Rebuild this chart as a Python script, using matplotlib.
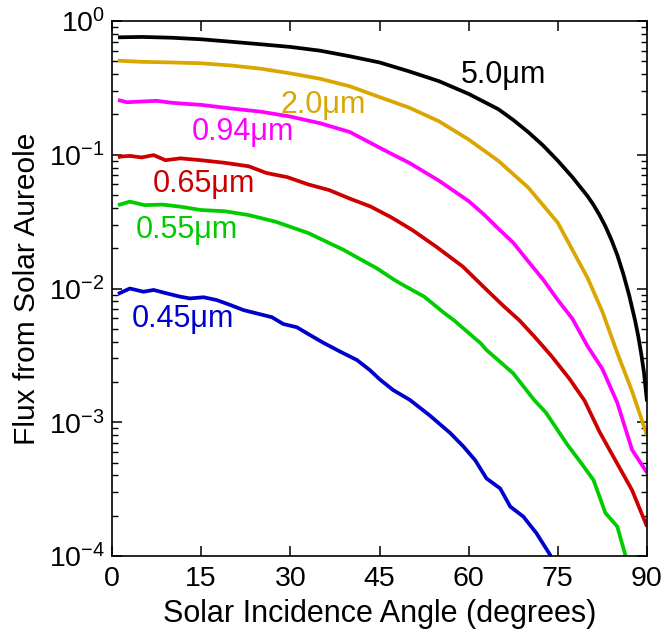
import matplotlib
matplotlib.use("Agg")
import matplotlib.pyplot as plt
from matplotlib.ticker import LogLocator, FixedLocator, NullFormatter

plt.rcParams['font.family'] = ['Liberation Sans', 'DejaVu Sans']
plt.rcParams['mathtext.fontset'] = 'custom'
plt.rcParams['mathtext.rm'] = 'Liberation Sans'
plt.rcParams['mathtext.it'] = 'Liberation Sans'
plt.rcParams['mathtext.default'] = 'rm'

# ---- data ----
ang_50 = [1, 5, 10, 15, 20, 25, 30, 35, 40, 45, 50, 55, 60, 65, 67.5, 70, 72.5,
          75, 77.5, 80, 81, 82, 83, 84, 85, 86, 87, 88, 88.5, 89, 89.5, 90]
flux_50 = [0.755, 0.76, 0.75, 0.73, 0.70, 0.67, 0.64, 0.60, 0.545, 0.49, 0.42,
           0.355, 0.285, 0.219, 0.182, 0.148, 0.1175, 0.0902, 0.0676, 0.049,
           0.0422, 0.0355, 0.0292, 0.0232, 0.0178, 0.0129, 0.0089, 0.00575,
           0.00447, 0.00331, 0.00234, 0.00143]

ang_20 = [1, 5, 10, 15, 20, 25, 30, 35, 40, 45, 50, 55, 60, 65, 70, 75, 80,
          82.5, 85, 87.5, 90]
flux_20 = [0.505, 0.495, 0.49, 0.483, 0.465, 0.44, 0.406, 0.37, 0.325, 0.27,
           0.225, 0.178, 0.13, 0.09, 0.057, 0.031, 0.012, 0.0067, 0.0033,
           0.0017, 0.0008]

ang_094 = [1, 2.5, 5, 7.5, 10, 12.5, 15, 20, 25, 30, 35, 40, 45, 47.5, 50, 55,
           60, 62.5, 65, 67.5, 70, 72.5, 75, 77.5, 80, 82.5, 85, 87.5, 90]
flux_094 = [0.257, 0.247, 0.25, 0.253, 0.245, 0.24, 0.236, 0.222, 0.21, 0.193,
            0.172, 0.148, 0.113, 0.099, 0.087, 0.064, 0.045, 0.036, 0.028,
            0.022, 0.016, 0.0117, 0.0082, 0.0059, 0.0037, 0.0025, 0.0014,
            0.00062, 0.00042]

ang_065 = [1, 1.5, 3, 5, 7, 9, 11.5, 15, 19, 23, 26, 29.5, 33, 36.5, 40, 43.5,
           47, 50.5, 54.5, 59, 63, 66, 68.5, 71, 74, 77, 79.5, 82, 85, 87.5, 90]
flux_065 = [0.0955, 0.097, 0.098, 0.0955, 0.0994, 0.091, 0.094, 0.091, 0.087,
            0.082, 0.073, 0.068, 0.060, 0.0545, 0.047, 0.041, 0.034, 0.0274,
            0.0206, 0.0146, 0.0098, 0.0073, 0.0058, 0.0044, 0.0031, 0.0021,
            0.00145, 0.00085, 0.00049, 0.00031, 0.000166]

ang_055 = [1, 3, 5.5, 8.5, 11.5, 15, 19, 23, 27.5, 33, 39, 41, 44.5, 47.5, 49,
           52.5, 56, 57.5, 62, 63, 67.5, 71, 73, 76.5, 79, 81, 83, 85, 86.4,
           87.5]
flux_055 = [0.042, 0.0446, 0.042, 0.0424, 0.0409, 0.0386, 0.0378, 0.0354,
            0.0316, 0.026, 0.0194, 0.0173, 0.0142, 0.0116, 0.0106, 0.0087,
            0.0065, 0.0058, 0.0039, 0.00347, 0.00232, 0.00147, 0.00118,
            0.00069, 0.00049, 0.00037, 0.00021, 0.000166, 0.0001, 0.00005]

ang_045 = [1, 3, 5.3, 7, 9.2, 11.4, 13.1, 15.4, 17.6, 19.9, 22.1, 24.3, 26.9,
           28.8, 31.1, 33.3, 35.5, 38.4, 41.2, 43.4, 45, 47.3, 50.1, 53.5,
           56.9, 59.1, 61.1, 63, 65.3, 67, 69.2, 71.4, 73.7, 74.5]
flux_045 = [0.0091, 0.0100, 0.00946, 0.00975, 0.0092, 0.0087, 0.00843, 0.0086,
            0.0082, 0.00753, 0.0069, 0.00652, 0.0061, 0.00543, 0.00513,
            0.00449, 0.00394, 0.00337, 0.00292, 0.00245, 0.0021, 0.00174,
            0.00147, 0.00112, 0.00083, 0.00066, 0.00052, 0.00038, 0.00032,
            0.000234, 0.000197, 0.000148, 0.000102, 0.00008]

labels = ['5.0\u03bcm', '2.0\u03bcm', '0.94\u03bcm', '0.65\u03bcm',
          '0.55\u03bcm', '0.45\u03bcm']
label_x = [65.8, 35.6, 22.1, 15.4, 12.6, 11.9]
label_y = [0.342, 0.204, 0.129, 0.0529, 0.0237, 0.00518]
colors = ['#000000', '#DAA600', '#FF00FF', '#CC0000', '#00CC00', '#0000CC']

x_ticks = [0, 15, 30, 45, 60, 75, 90]
y_ticks = [1e-4, 1e-3, 1e-2, 1e-1, 1e0]
y_ticklabels = [r'$10^{-4}$', r'$10^{-3}$', r'$10^{-2}$', r'$10^{-1}$', r'$10^{0}$']

series = [(ang_50, flux_50), (ang_20, flux_20), (ang_094, flux_094),
          (ang_065, flux_065), (ang_055, flux_055), (ang_045, flux_045)]

# ---- figure ----
fig = plt.figure(figsize=(6.65, 6.33), dpi=100)
ax = fig.add_axes([112 / 665, 1 - 556 / 633, (647 - 112) / 665, (556 - 21) / 633])

for (a, f), c in zip(series, colors):
    ax.plot(a, f, color=c, lw=2.7, solid_capstyle='butt', solid_joinstyle='round')

for t, x, y, c in zip(labels, label_x, label_y, colors):
    ax.text(x, y, t, color=c, fontsize=22, ha='center', va='baseline')

ax.set_yscale('log')
ax.set_xlim(0, 90)
ax.set_ylim(1e-4, 1)
ax.xaxis.set_major_locator(FixedLocator(x_ticks))
ax.set_xticklabels([str(v) for v in x_ticks])
ax.set_yticks(y_ticks)
ax.set_yticklabels(y_ticklabels)
ax.yaxis.set_minor_locator(LogLocator(base=10, subs=range(2, 10)))
ax.yaxis.set_minor_formatter(NullFormatter())

ax.tick_params(axis='both', which='major', direction='in', length=7.2, width=1.1,
               labelsize=20.5, top=True, right=True, color='black')
ax.tick_params(axis='y', which='minor', direction='in', length=4.3, width=1.0,
               left=True, right=True)
ax.tick_params(axis='x', which='major', pad=7)
ax.tick_params(axis='y', which='major', pad=5)
for s in ax.spines.values():
    s.set_linewidth(1.2)

ax.set_xlabel('Solar Incidence Angle (degrees)', fontsize=22, labelpad=5)
ax.set_ylabel('Flux from Solar Aureole', fontsize=21.5, labelpad=6)

fig.savefig('out.png', dpi=100)
